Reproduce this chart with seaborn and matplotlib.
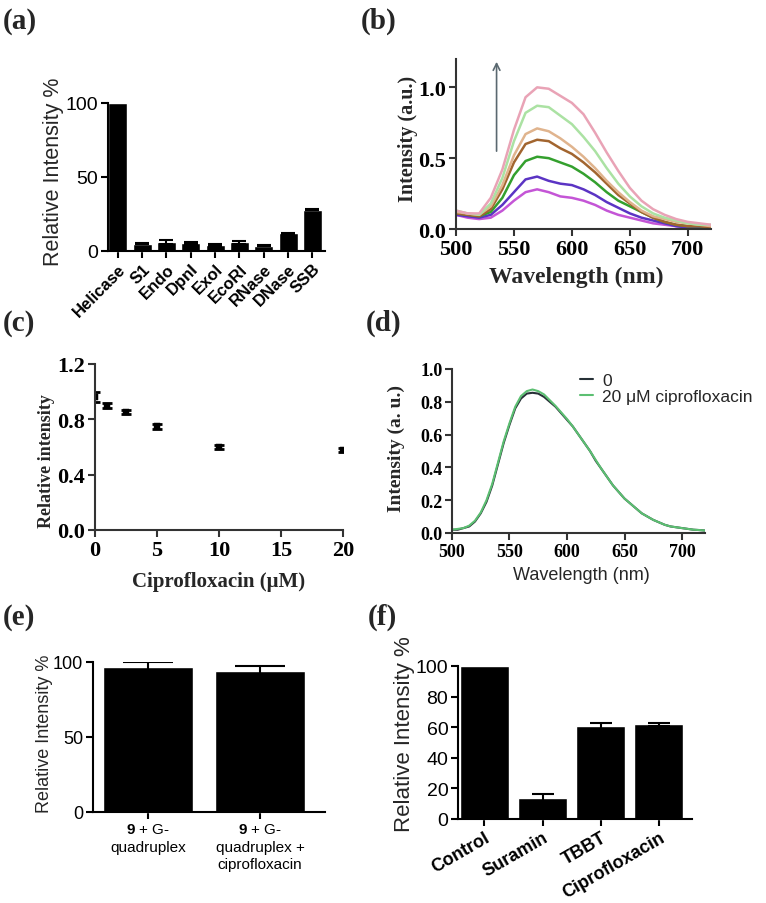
import matplotlib
matplotlib.use("Agg")
import matplotlib.pyplot as plt
import seaborn as sns

# ---------- data ----------
a_labels = ["Helicase", "S1", "Endo", "DpnI", "ExoI", "EcoRI", "RNase", "DNase", "SSB"]
a_values = [100, 5, 6, 5.5, 4, 6, 3.5, 12, 28]
a_errors = [0, 0.4, 1.5, 0.6, 0.4, 1.0, 0.3, 0.4, 0.6]

b_wavelength = [500, 510, 520, 530, 540, 550, 560, 570, 580, 590, 600, 610,
                620, 630, 640, 650, 660, 670, 680, 690, 700, 710, 720]
b_pink = [0.13, 0.11, 0.11, 0.22, 0.42, 0.70, 0.93, 1.00, 0.99, 0.94, 0.89, 0.81,
          0.68, 0.54, 0.41, 0.29, 0.20, 0.14, 0.10, 0.07, 0.05, 0.04, 0.03]
b_lightgreen = [0.13, 0.11, 0.10, 0.18, 0.36, 0.62, 0.82, 0.87, 0.86, 0.80, 0.74, 0.65,
                0.55, 0.43, 0.32, 0.23, 0.16, 0.11, 0.08, 0.06, 0.04, 0.03, 0.03]
b_tan = [0.12, 0.11, 0.10, 0.16, 0.31, 0.52, 0.67, 0.71, 0.69, 0.64, 0.58, 0.51,
         0.43, 0.34, 0.26, 0.19, 0.13, 0.09, 0.07, 0.05, 0.04, 0.03, 0.02]
b_brown = [0.11, 0.10, 0.09, 0.14, 0.28, 0.47, 0.60, 0.63, 0.62, 0.57, 0.53, 0.47,
           0.40, 0.32, 0.24, 0.18, 0.12, 0.08, 0.05, 0.03, 0.02, 0.02, 0.01]
b_green = [0.11, 0.10, 0.09, 0.12, 0.22, 0.38, 0.48, 0.51, 0.50, 0.47, 0.44, 0.39,
           0.33, 0.26, 0.20, 0.16, 0.12, 0.08, 0.05, 0.03, 0.02, 0.02, 0.01]
b_blue = [0.10, 0.09, 0.08, 0.10, 0.17, 0.26, 0.35, 0.37, 0.34, 0.32, 0.31, 0.28,
          0.24, 0.19, 0.15, 0.11, 0.08, 0.06, 0.04, 0.02, 0.01, 0.01, 0.01]
b_magenta = [0.10, 0.08, 0.07, 0.08, 0.13, 0.20, 0.26, 0.28, 0.26, 0.23, 0.22, 0.20,
             0.17, 0.13, 0.10, 0.08, 0.06, 0.04, 0.03, 0.02, 0.01, 0.01, 0.01]
b_series = [b_magenta, b_blue, b_green, b_brown, b_tan, b_lightgreen, b_pink]
b_colors = ["#c455d6", "#5b34c4", "#34a02e", "#a2652f", "#e0b48e", "#abe2a3", "#e9a3b6"]

c_conc = [0, 1, 2.5, 5, 10, 20]
c_values = [0.96, 0.90, 0.85, 0.75, 0.60, 0.58]
c_errors = [0.035, 0.015, 0.015, 0.018, 0.015, 0.015]

d_wavelength = list(range(500, 725, 5))
d_zero = [0.02, 0.02, 0.03, 0.04, 0.07, 0.12, 0.19, 0.29, 0.42, 0.55, 0.66, 0.76,
          0.82, 0.85, 0.855, 0.85, 0.83, 0.80, 0.77, 0.73, 0.69, 0.65, 0.60, 0.55,
          0.50, 0.44, 0.39, 0.34, 0.29, 0.25, 0.21, 0.18, 0.15, 0.12, 0.10, 0.08,
          0.065, 0.05, 0.04, 0.035, 0.03, 0.025, 0.02, 0.018, 0.015]
d_cipro = [0.02, 0.025, 0.03, 0.045, 0.075, 0.125, 0.20, 0.30, 0.43, 0.56, 0.67, 0.77,
           0.835, 0.865, 0.875, 0.865, 0.845, 0.81, 0.775, 0.735, 0.695, 0.65, 0.60, 0.55,
           0.50, 0.445, 0.39, 0.34, 0.29, 0.25, 0.21, 0.18, 0.15, 0.12, 0.10, 0.08,
           0.065, 0.05, 0.04, 0.035, 0.03, 0.025, 0.02, 0.018, 0.015]

e_labels = ["$\\mathbf{9}$ + G-\nquadruplex", "$\\mathbf{9}$ + G-\nquadruplex +\nciprofloxacin"]
e_values = [97, 94]
e_errors = [3, 3.5]

f_labels = ["Control", "Suramin", "TBBT", "Ciprofloxacin"]
f_values = [100, 14, 61, 62]
f_errors = [0, 2.5, 2, 1]

# ---------- style ----------
sns.set_theme(style="ticks")
plt.rcParams["font.family"] = ["Liberation Sans", "DejaVu Sans"]
plt.rcParams["mathtext.fontset"] = "custom"
plt.rcParams["mathtext.rm"] = "Liberation Sans"
plt.rcParams["mathtext.bf"] = "Liberation Sans:bold"
plt.rcParams["axes.linewidth"] = 1.5
plt.rcParams["axes.edgecolor"] = "black"

SERIF = ["Liberation Serif", "DejaVu Serif"]
SANS = ["Liberation Sans", "DejaVu Sans"]

W, H = 766, 904
fig = plt.figure(figsize=(W / 100, H / 100), dpi=100)


def add_ax(l, t, r, b):
    return fig.add_axes([l / W, 1 - b / H, (r - l) / W, (b - t) / H])


def style_ticks(ax, family, size, weight="normal", color="black"):
    ax.tick_params(direction="out", length=5, width=1.5, colors=color, pad=2)
    for lbl in ax.get_xticklabels() + ax.get_yticklabels():
        lbl.set_family(family)
        lbl.set_fontsize(size)
        lbl.set_fontweight(weight)
        lbl.set_color("black")
    sns.despine(ax=ax)
    for s in ["left", "bottom"]:
        ax.spines[s].set_color(color)


def bar_errors(ax, values, errors, capsize):
    # only bars that carry an error bar in the figure
    idx = [i for i, e in enumerate(errors) if e > 0]
    ax.errorbar(idx, [values[i] for i in idx], yerr=[errors[i] for i in idx], fmt="none",
                ecolor="black", elinewidth=1.5, capsize=capsize, capthick=1.5)


def panel_label(x, y, txt):
    fig.text(x / W, 1 - y / H, txt, family=SERIF, weight="bold", fontsize=21, va="top")


# ---------- (a) ----------
ax = add_ax(108, 104, 325, 252)
sns.barplot(x=a_labels, y=a_values, color="black", saturation=1, width=0.78, ax=ax)
bar_errors(ax, a_values, a_errors, 5)
ax.set_xlim(-0.4, 8.52)
ax.set_ylim(0, 100)
ax.set_yticks([0, 50, 100])
ax.set_xlabel("")
ax.set_ylabel("Relative Intensity %", fontsize=15.5, family=SANS)
ax.yaxis.set_label_coords(-0.205, 0.54)
style_ticks(ax, SANS, 14)
for lbl in ax.get_xticklabels():
    lbl.set_rotation(45)
    lbl.set_ha("right")
    lbl.set_rotation_mode("anchor")
    lbl.set_fontweight("bold")
    lbl.set_fontsize(12)
for p in ax.patches:
    p.set_clip_on(False)

# ---------- (b) ----------
ax = add_ax(456, 60, 711, 230)
for vals, col in zip(b_series, b_colors):
    sns.lineplot(x=b_wavelength, y=vals, color=col, linewidth=1.8, ax=ax)
ax.set_xlim(500, 720)
ax.set_ylim(0, 1.2)
ax.set_xticks([500, 550, 600, 650, 700])
ax.set_yticks([0, 0.5, 1.0])
ax.set_yticklabels(["0.0", "0.5", "1.0"])
ax.annotate("", xy=(535, 1.2), xytext=(535, 0.53),
            arrowprops=dict(arrowstyle="->", color="#5a6870", lw=1.2), annotation_clip=False)
ax.set_xlabel("Wavelength (nm)", family=SERIF, weight="bold", fontsize=17, va="top")
ax.set_ylabel("Intensity (a.u.)", family=SERIF, weight="bold", fontsize=14.5)
ax.xaxis.set_label_coords(0.47, -0.215)
ax.yaxis.set_label_coords(-0.15, 0.535)
style_ticks(ax, SERIF, 16, "bold", color="#333333")

# ---------- (c) ----------
ax = add_ax(95, 365, 343, 531)
sns.scatterplot(x=c_conc, y=c_values, marker="s", s=18, color="black", edgecolor="black", ax=ax)
ax.errorbar(c_conc, c_values, yerr=c_errors, fmt="none", ecolor="black",
            elinewidth=1.5, capsize=3.5, capthick=2)
ax.set_xlim(0, 20)
ax.set_ylim(0, 1.2)
ax.set_xticks([0, 5, 10, 15, 20])
ax.set_yticks([0, 0.4, 0.8, 1.2])
ax.set_yticklabels(["0.0", "0.4", "0.8", "1.2"])
ax.set_xlabel("Ciprofloxacin (μM)", family=SERIF, weight="bold", fontsize=15, va="top")
ax.set_ylabel("Relative intensity", family=SERIF, weight="bold", fontsize=13)
ax.xaxis.set_label_coords(0.5, -0.245)
ax.yaxis.set_label_coords(-0.16, 0.42)
style_ticks(ax, SERIF, 16, "bold", color="#333333")

# ---------- (d) ----------
ax = add_ax(452, 370, 705, 534)
sns.lineplot(x=d_wavelength, y=d_zero, color="#263036", linewidth=1.5, label="0", ax=ax)
sns.lineplot(x=d_wavelength, y=d_cipro, color="#5cbf72", linewidth=1.5,
             label="20 μM ciprofloxacin", ax=ax)
ax.set_xlim(500, 720)
ax.set_ylim(0, 1.0)
ax.set_xticks([500, 550, 600, 650, 700])
ax.set_yticks([0, 0.2, 0.4, 0.6, 0.8, 1.0])
ax.set_yticklabels(["0.0", "0.2", "0.4", "0.6", "0.8", "1.0"])
ax.legend(loc="upper left", bbox_to_anchor=(0.47, 1.03), frameon=False, handlelength=0.8,
          handletextpad=0.5, labelspacing=0.05, borderpad=0, prop={"family": SANS, "size": 12.5})
ax.set_xlabel("Wavelength (nm)", family=SANS, fontsize=13, va="top")
ax.set_ylabel("Intensity (a. u.)", family=SERIF, weight="bold", fontsize=14)
ax.xaxis.set_label_coords(0.51, -0.2)
ax.yaxis.set_label_coords(-0.185, 0.524)
style_ticks(ax, SERIF, 13, "bold", color="#333333")

# ---------- (e) ----------
ax = add_ax(93, 663, 325, 813)
sns.barplot(x=e_labels, y=e_values, color="black", saturation=1, width=0.8, ax=ax)
bar_errors(ax, e_values, e_errors, 18)
ax.set_xlim(-0.49, 1.58)
ax.set_ylim(0, 100)
ax.set_yticks([0, 50, 100])
ax.set_xlabel("")
ax.set_ylabel("Relative Intensity %", fontsize=13, family=SANS)
ax.yaxis.set_label_coords(-0.172, 0.53)
style_ticks(ax, SANS, 13)
for lbl in ax.get_xticklabels():
    lbl.set_fontsize(11)
    lbl.set_linespacing(1.35)
for p in ax.patches:
    p.set_clip_on(False)

# ---------- (f) ----------
ax = add_ax(458, 667, 692, 820)
sns.barplot(x=f_labels, y=f_values, color="black", saturation=1, width=0.84, ax=ax)
bar_errors(ax, f_values, f_errors, 8)
ax.set_xlim(-0.455, 3.57)
ax.set_ylim(0, 100)
ax.set_yticks([0, 20, 40, 60, 80, 100])
ax.set_xlabel("")
ax.set_ylabel("Relative Intensity %", fontsize=16, family=SANS)
ax.yaxis.set_label_coords(-0.185, 0.56)
style_ticks(ax, SANS, 14)
for lbl in ax.get_xticklabels():
    lbl.set_rotation(30)
    lbl.set_ha("right")
    lbl.set_rotation_mode("anchor")
    lbl.set_fontweight("bold")
    lbl.set_fontsize(13)
for p in ax.patches:
    p.set_clip_on(False)

# ---------- panel labels ----------
panel_label(3, 8, "(a)")
panel_label(361, 8, "(b)")
panel_label(3, 310, "(c)")
panel_label(366, 310, "(d)")
panel_label(3, 604, "(e)")
panel_label(368, 604, "(f)")

fig.savefig("out.png", dpi=100)
